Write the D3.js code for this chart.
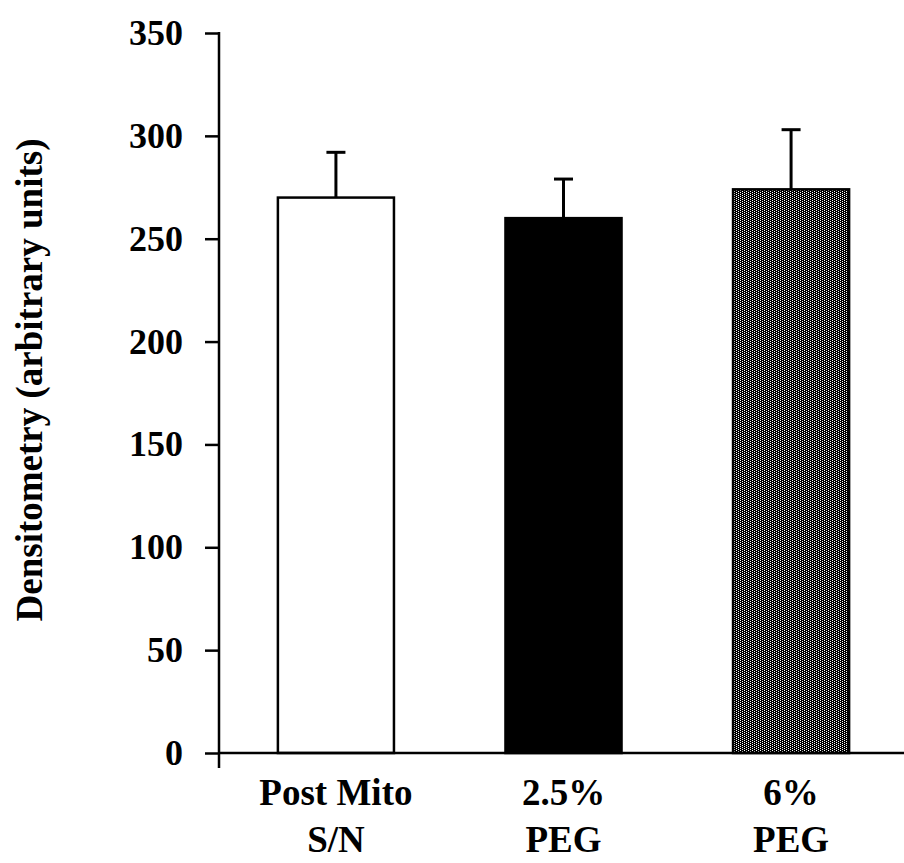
<!DOCTYPE html>
<html>
<head>
<meta charset="utf-8">
<script src="https://cdn.jsdelivr.net/npm/d3@7"></script>
<style>
  html, body { margin: 0; padding: 0; background: #fff; }
  svg { display: block; }
  text { font-family: "Liberation Serif", "Times New Roman", serif; font-weight: bold; fill: #000; }
</style>
</head>
<body>
<svg id="chart" width="904" height="863"></svg>
<script>
// Densitometry of each fraction, mean with upper error (SD)
const categories = ["Post Mito|S/N", "2.5%|PEG", "6%|PEG"];
const means = [270, 260, 274];
const errors = [22, 19, 29];
const fills = ["white", "black", "halftone"];
const yTicks = [0, 50, 100, 150, 200, 250, 300, 350];
const yLabel = "Densitometry (arbitrary units)";

const svg = d3.select("#chart");
const W = 904, H = 863;
const axisX = 219, baseY = 753, topY = 33;

const y = d3.scaleLinear().domain([0, 350]).range([baseY, topY]);
const x = d3.scaleBand().domain(categories).range([axisX + 2, W + 2])
  .paddingInner(0.49).paddingOuter(0.25);

// dark halftone screen for the third bar (staggered white dots on black)
const defs = svg.append("defs");
const pat = defs.append("pattern").attr("id", "halftone")
  .attr("patternUnits", "userSpaceOnUse").attr("width", 4).attr("height", 2);
pat.append("rect").attr("width", 4).attr("height", 2).attr("fill", "#000");
pat.append("rect").attr("x", 0).attr("y", 0).attr("width", 1).attr("height", 1).attr("fill", "#fff");
pat.append("rect").attr("x", 2).attr("y", 1).attr("width", 1).attr("height", 1).attr("fill", "#fff");

const data = categories.map((c, i) => ({ c, m: means[i], e: errors[i], f: fills[i] }));

// bars
svg.append("g").selectAll("rect").data(data).join("rect")
  .attr("x", d => x(d.c))
  .attr("y", d => y(d.m))
  .attr("width", x.bandwidth())
  .attr("height", d => y(0) - y(d.m))
  .attr("fill", d => d.f === "halftone" ? "url(#halftone)" : d.f)
  .attr("stroke", "#000")
  .attr("stroke-width", 2.5);

// error bars (upper only)
const eb = svg.append("g").attr("stroke", "#000").attr("stroke-width", 3);
eb.selectAll("line.v").data(data).join("line").attr("class", "v")
  .attr("x1", d => x(d.c) + x.bandwidth() / 2)
  .attr("x2", d => x(d.c) + x.bandwidth() / 2)
  .attr("y1", d => y(d.m))
  .attr("y2", d => y(d.m + d.e));
eb.selectAll("line.cap").data(data).join("line").attr("class", "cap")
  .attr("x1", d => x(d.c) + x.bandwidth() / 2 - 9.5)
  .attr("x2", d => x(d.c) + x.bandwidth() / 2 + 9.5)
  .attr("y1", d => y(d.m + d.e))
  .attr("y2", d => y(d.m + d.e));

// y axis
const yAxis = d3.axisLeft(y).tickValues(yTicks).tickSize(14).tickSizeOuter(0).tickPadding(22);
const gy = svg.append("g").attr("transform", `translate(${axisX},0)`).call(yAxis);
gy.select(".domain").remove();
gy.selectAll(".tick line").attr("stroke", "#000").attr("stroke-width", 2.5);
gy.selectAll(".tick text")
  .style("font-family", '"Liberation Serif", "Times New Roman", serif')
  .style("font-weight", "bold").style("font-size", "36px").attr("fill", "#000");

svg.append("line")
  .attr("x1", axisX).attr("x2", axisX)
  .attr("y1", y(350) - 1).attr("y2", baseY + 15)
  .attr("stroke", "#000").attr("stroke-width", 2.5);

// x axis baseline
svg.append("line")
  .attr("x1", axisX).attr("x2", W)
  .attr("y1", baseY).attr("y2", baseY)
  .attr("stroke", "#000").attr("stroke-width", 2.5);

// category labels (two lines each)
const lab = svg.append("g").selectAll("text").data(categories).join("text")
  .attr("text-anchor", "middle")
  .style("font-size", "37px");
lab.each(function (c) {
  const parts = c.split("|");
  const cx = x(c) + x.bandwidth() / 2;
  d3.select(this).selectAll("tspan").data(parts).join("tspan")
    .attr("x", cx)
    .attr("y", (d, i) => 805 + i * 47)
    .text(d => d);
});

// y axis title
svg.append("text")
  .attr("transform", "translate(42,380) rotate(-90)")
  .attr("text-anchor", "middle")
  .style("font-size", "37px")
  .text(yLabel);
</script>
</body>
</html>
